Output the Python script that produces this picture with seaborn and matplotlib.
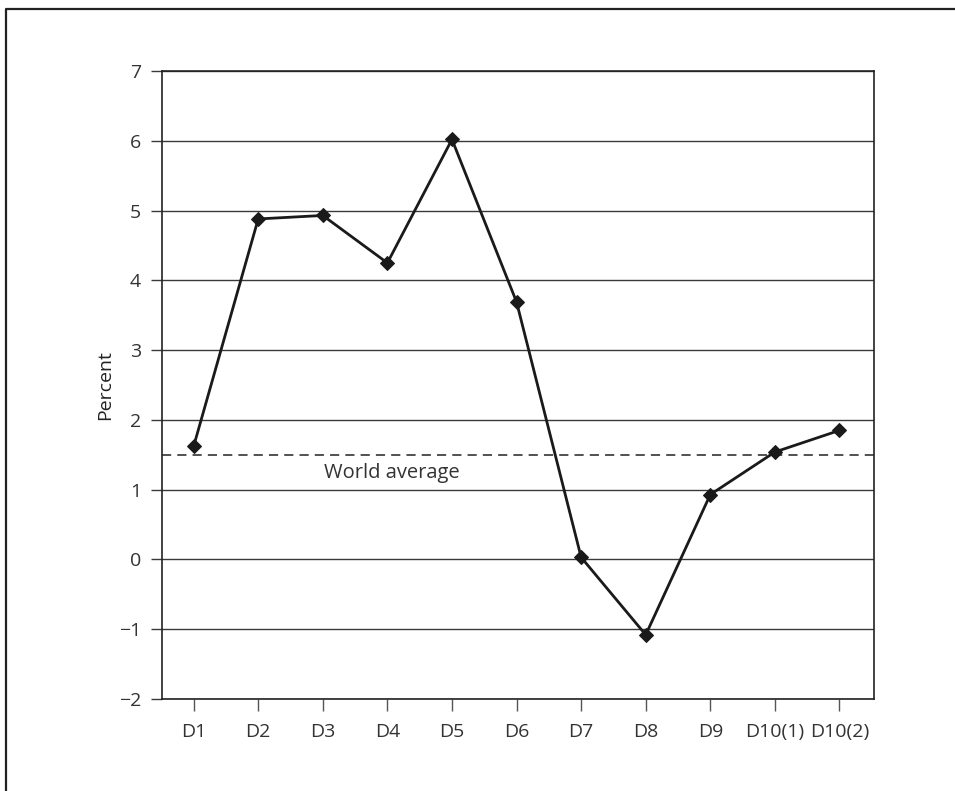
import numpy as np
import pandas as pd
import matplotlib
matplotlib.use("Agg")
import matplotlib.pyplot as plt
import seaborn as sns

categories = ["D1", "D2", "D3", "D4", "D5", "D6", "D7", "D8", "D9", "D10(1)", "D10(2)"]
percent = [1.62, 4.88, 4.93, 4.25, 6.02, 3.69, 0.03, -1.08, 0.93, 1.54, 1.85]
world_average = 1.5
y_ticks = [-2, -1, 0, 1, 2, 3, 4, 5, 6, 7]

df = pd.DataFrame({"cat": categories, "pos": np.arange(len(categories)), "val": percent})

sns.set_style("white")
plt.rcParams["font.family"] = ["Open Sans", "DejaVu Sans"]

fig = plt.figure(figsize=(9.55, 7.91), dpi=100)
ax = fig.add_axes([0.1696, 0.1163, 0.9149 - 0.1696, 0.9102 - 0.1163])

# horizontal grid lines
for t in y_ticks:
    ax.axhline(t, color="#3a3a3a", lw=1.0, zorder=1)

ax.axhline(world_average, color="#222222", lw=1.1, ls=(0, (6, 4)), zorder=2)
ax.text(3.07, 1.24, "World average", ha="center", va="center", fontsize=14.5, color="#333333")

sns.lineplot(data=df, x="pos", y="val", sort=False, color="#1a1a1a", lw=2.0,
             marker="D", markersize=7, markeredgecolor="#1a1a1a", ax=ax, zorder=3)

ax.set_xlim(-0.49, 10.53)
ax.set_ylim(-2, 7)
ax.set_xticks(df["pos"])
ax.set_xticklabels(categories)
ax.set_yticks(y_ticks)
ax.set_xlabel("")
ax.set_ylabel("Percent", fontsize=14, color="#222222", labelpad=3)

ax.tick_params(axis="x", direction="out", length=8.5, width=1.0, color="#555555",
               labelsize=14, labelcolor="#333333", pad=9, bottom=True)
ax.tick_params(axis="y", direction="out", length=8, width=1.0, color="#3a3a3a",
               labelsize=14, labelcolor="#333333", pad=7, left=True)

for side in ["left", "bottom", "right", "top"]:
    ax.spines[side].set_visible(True)
    ax.spines[side].set_color("#222222")
    ax.spines[side].set_linewidth(1.2)

# outer frame (cropped at right and bottom)
fig.add_artist(plt.Line2D([6 / 955, 6 / 955, 1.0], [0.0, 1 - 9 / 791, 1 - 9 / 791],
                          transform=fig.transFigure, color="#222222", lw=1.6))

fig.savefig("out.png", dpi=100, facecolor="white")
